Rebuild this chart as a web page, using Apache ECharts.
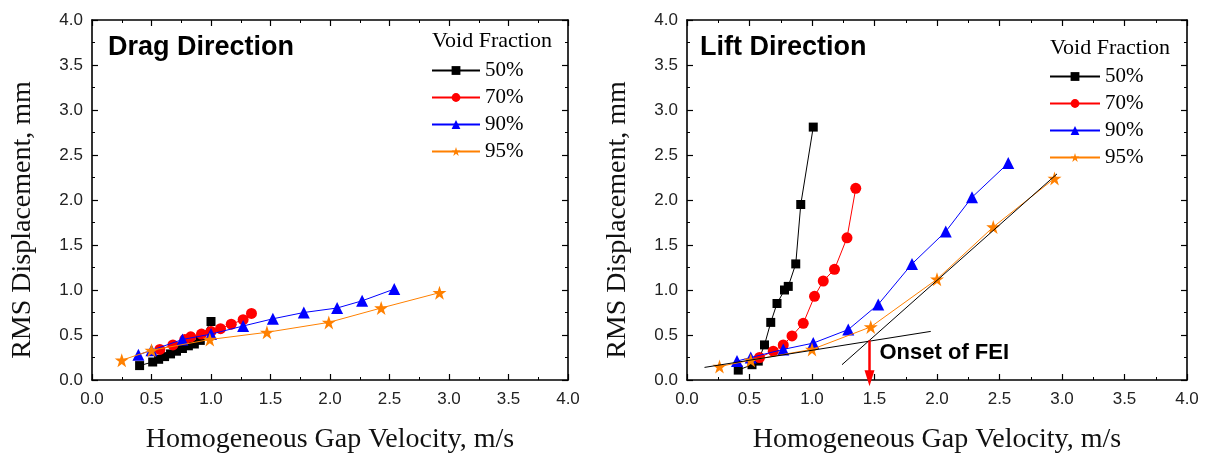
<!DOCTYPE html>
<html><head><meta charset="utf-8">
<script src="https://cdn.jsdelivr.net/npm/echarts@6/dist/echarts.min.js"></script>
<style>html,body{margin:0;padding:0;background:#fff}#c{width:1213px;height:455px}</style>
</head><body><div id="c"></div>
<script>
// ---- Data ----
const seriesNames = ['50%', '70%', '90%', '95%'];
const tickLabels = ['0.0','0.5','1.0','1.5','2.0','2.5','3.0','3.5','4.0'];
// Drag direction
const drag50 = [[0.40,0.16],[0.51,0.20],[0.56,0.23],[0.61,0.26],[0.66,0.29],[0.71,0.32],[0.76,0.35],[0.81,0.38],[0.86,0.40],[0.91,0.44],[1.00,0.65]];
const drag70 = [[0.57,0.34],[0.68,0.39],[0.78,0.45],[0.83,0.48],[0.92,0.51],[1.00,0.54],[1.08,0.57],[1.17,0.62],[1.27,0.67],[1.34,0.74]];
const drag90 = [[0.39,0.28],[0.50,0.33],[0.76,0.45],[1.00,0.51],[1.27,0.60],[1.52,0.68],[1.78,0.75],[2.06,0.80],[2.27,0.88],[2.54,1.01]];
const drag95 = [[0.25,0.22],[0.50,0.33],[0.99,0.45],[1.47,0.53],[1.99,0.64],[2.43,0.80],[2.92,0.97]];
// Lift direction
const lift50 = [[0.41,0.11],[0.52,0.17],[0.57,0.21],[0.62,0.39],[0.67,0.64],[0.72,0.85],[0.78,1.00],[0.81,1.04],[0.87,1.29],[0.91,1.95],[1.01,2.81]];
const lift70 = [[0.58,0.25],[0.69,0.32],[0.77,0.39],[0.84,0.49],[0.93,0.63],[1.02,0.93],[1.09,1.10],[1.18,1.23],[1.28,1.58],[1.35,2.13]];
const lift90 = [[0.40,0.21],[0.51,0.25],[0.77,0.34],[1.01,0.41],[1.29,0.56],[1.53,0.84],[1.80,1.29],[2.07,1.65],[2.28,2.03],[2.57,2.41]];
const lift95 = [[0.26,0.15],[0.51,0.22],[1.00,0.34],[1.47,0.59],[2.00,1.12],[2.45,1.70],[2.94,2.24]];
// Onset-of-FEI construction lines
const fitLow = [[0.14,0.14],[1.95,0.54]];
const fitHigh = [[1.24,0.17],[2.96,2.29]];
const onsetArrow = [[1.46, 0.44, -0.07]];   // x, y start, y end (arrow tip)
const onsetLabel = [[1.54, 0.30]];
const onsetText = 'Onset of FEI';

// ---- Styles ----
const colors = ['#000000','#ff0000','#0000ff','#ff8000'];
const STAR = 'path://M50,0 L61.8,35.5 L99,35.5 L69,57.5 L80.5,93 L50,71 L19.5,93 L31,57.5 L1,35.5 L38.2,35.5 Z';
const symbols = ['rect','circle','triangle',STAR];
const sizes = [9,11,12,14];
const SERIF = '"Liberation Serif","Times New Roman",serif';
const SANS = '"Liberation Sans",Arial,sans-serif';

const chart = echarts.init(document.getElementById('c'), null, {renderer:'canvas'});

function xAx(grid, top){
  return {
    type:'value', gridIndex:grid, min:0, max:4, interval:0.5,
    position: top ? 'top' : 'bottom',
    name: top ? '' : 'Homogeneous Gap Velocity, m/s',
    nameLocation:'middle', nameGap:46,
    nameTextStyle:{fontFamily:SERIF, fontSize:28, color:'#111'},
    axisLine:{show:true, onZero:false, lineStyle:{color:'#000', width:1.6}},
    axisTick:{show:true, inside:true, length:6, lineStyle:{color:'#000', width:1.2}},
    minorTick:{show:true, splitNumber:2, length:3, lineStyle:{color:'#000', width:1}},
    axisLabel:{show:!top, margin:11, fontFamily:SANS, fontSize:17, color:'#222',
      formatter:(v)=>tickLabels[Math.round(v*2)]},
    splitLine:{show:false}
  };
}
function yAx(grid, right){
  return {
    type:'value', gridIndex:grid, min:0, max:4, interval:0.5,
    position: right ? 'right' : 'left',
    name: right ? '' : 'RMS Displacement, mm',
    nameLocation:'middle', nameGap:55,
    nameTextStyle:{fontFamily:SERIF, fontSize:28, color:'#111', padding:[0,40,0,0]},
    axisLine:{show:true, onZero:false, lineStyle:{color:'#000', width:1.6}},
    axisTick:{show:true, inside:true, length:6, lineStyle:{color:'#000', width:1.2}},
    minorTick:{show:true, splitNumber:2, length:3, lineStyle:{color:'#000', width:1}},
    axisLabel:{show:!right, margin:9, fontFamily:SANS, fontSize:17, color:'#222',
      formatter:(v)=>tickLabels[Math.round(v*2)]},
    splitLine:{show:false}
  };
}

function dataSeries(grid, arrs){
  return arrs.map((d,i)=>({
    type:'line', name:seriesNames[i], xAxisIndex:grid*2, yAxisIndex:grid*2,
    data:d, symbol:symbols[i], symbolSize:sizes[i], showSymbol:true,
    lineStyle:{color:colors[i], width:1}, itemStyle:{color:colors[i]},
    z: 3 + i, animation:false
  }));
}

const series = [
  ...dataSeries(0,[drag50,drag70,drag90,drag95]),
  ...dataSeries(1,[lift50,lift70,lift90,lift95]),
  {type:'line', name:'fitLow', xAxisIndex:2, yAxisIndex:2, data:fitLow, symbol:'none',
    lineStyle:{color:'#000', width:1}, z:8, animation:false},
  {type:'line', name:'fitHigh', xAxisIndex:2, yAxisIndex:2, data:fitHigh, symbol:'none',
    lineStyle:{color:'#000', width:1}, z:8, animation:false},
  {type:'custom', name:'onsetArrow', xAxisIndex:2, yAxisIndex:2, data:onsetArrow, z:9,
    clip:false, animation:false, encode:{x:0, y:1},
    renderItem:(params, api)=>{
      const p0 = api.coord([api.value(0), api.value(1)]);
      const p1 = api.coord([api.value(0), api.value(2)]);
      const hl = 16, hw = 5;
      return {type:'group', children:[
        {type:'line', shape:{x1:p0[0], y1:p0[1], x2:p1[0], y2:p1[1]-hl+1},
          style:{stroke:'#ff0000', lineWidth:2.5}},
        {type:'polygon', shape:{points:[[p1[0]-hw, p1[1]-hl],[p1[0]+hw, p1[1]-hl],[p1[0], p1[1]]]},
          style:{fill:'#ff0000'}}
      ]};
    }},
  {type:'custom', name:'onsetLabel', xAxisIndex:2, yAxisIndex:2, data:onsetLabel, z:9,
    clip:false, animation:false, encode:{x:0, y:1},
    renderItem:(params, api)=>{
      const p = api.coord([api.value(0), api.value(1)]);
      return {type:'text', x:p[0], y:p[1], style:{text:onsetText, fill:'#000',
        font:'bold 22px "Liberation Sans", Arial, sans-serif', align:'left', verticalAlign:'middle'}};
    }}
];

chart.setOption({
  animation:false,
  grid:[
    {left:92, top:20, width:476, height:360, containLabel:false, outerBoundsMode:'none'},
    {left:687, top:20, width:500, height:360, containLabel:false, outerBoundsMode:'none'}
  ],
  xAxis:[xAx(0,false), xAx(0,true), xAx(1,false), xAx(1,true)],
  yAxis:[yAx(0,false), yAx(0,true), yAx(1,false), yAx(1,true)],
  title:[
    {text:'Drag Direction', left:103, top:29, textStyle:{fontFamily:SANS, fontWeight:'bold', fontSize:27, color:'#000'}},
    {text:'Lift Direction', left:695, top:29, textStyle:{fontFamily:SANS, fontWeight:'bold', fontSize:27, color:'#000'}},
    {text:'Void Fraction', left:427, top:25, textStyle:{fontFamily:SERIF, fontWeight:'normal', fontSize:22, color:'#000'}},
    {text:'Void Fraction', left:1045, top:32, textStyle:{fontFamily:SERIF, fontWeight:'normal', fontSize:22, color:'#000'}}
  ],
  legend:[
    {data:seriesNames, orient:'vertical', left:426, top:55, itemWidth:48, itemHeight:11, itemGap:6,
      selectedMode:false, textStyle:{fontFamily:SERIF, fontSize:21, color:'#000'}},
    {data:seriesNames, orient:'vertical', left:1044, top:61, itemWidth:50, itemHeight:11, itemGap:6,
      selectedMode:false, textStyle:{fontFamily:SERIF, fontSize:21, color:'#000'}}
  ],
  series
});
</script></body></html>
